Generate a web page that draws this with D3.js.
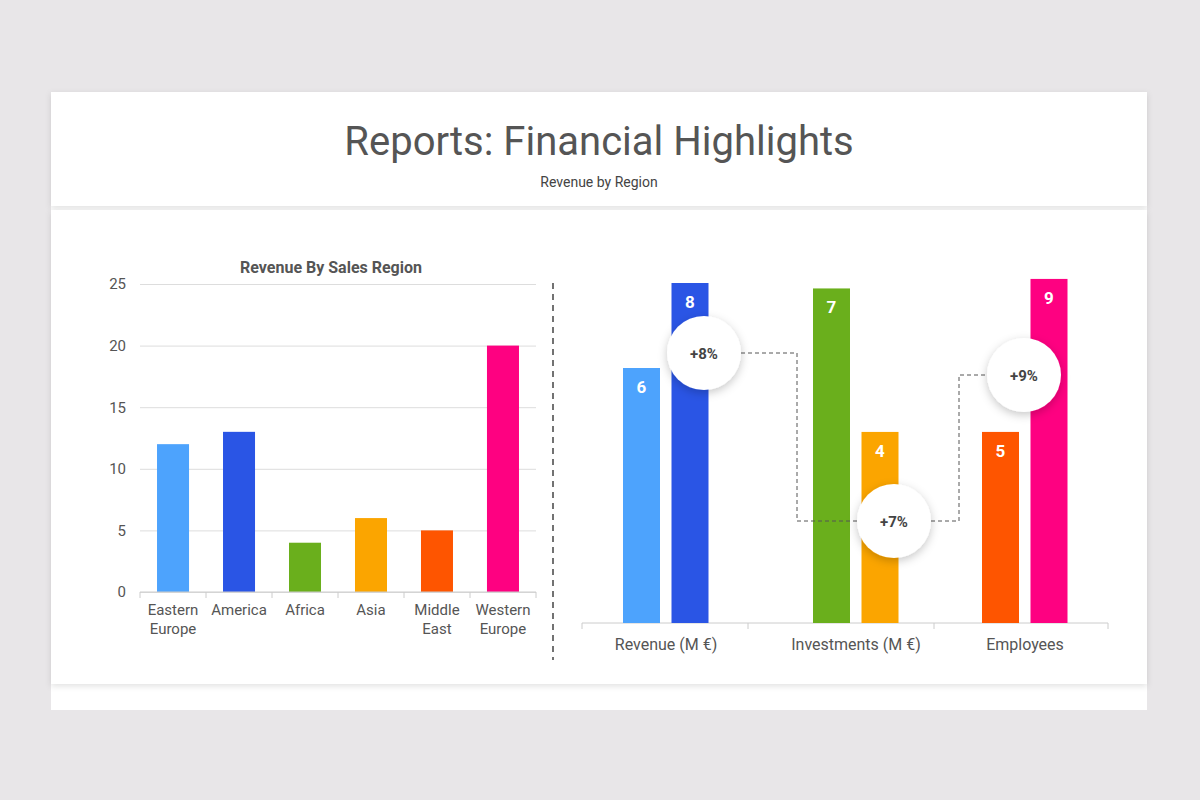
<!DOCTYPE html>
<html>
<head>
<meta charset="utf-8">
<script src="https://cdn.jsdelivr.net/npm/d3@7"></script>
<style>
  body { margin: 0; background: #e8e6e8; font-family: Roboto, "Open Sans", sans-serif; }
</style>
</head>
<body>
<svg id="chart" width="1200" height="800"></svg>
<script>
// left chart data
var regions = ["Eastern Europe", "America", "Africa", "Asia", "Middle East", "Western Europe"];
var regionRevenue = [12, 13, 4, 6, 5, 20];
var regionColors = ["#4da3fd", "#2a55e5", "#6aaf1c", "#fba500", "#fe5500", "#fe0181"];
var yTicks = [0, 5, 10, 15, 20, 25];

// right chart data
var groups = ["Revenue (M €)", "Investments (M €)", "Employees"];
var groupLabels = [[6, 8], [7, 4], [5, 9]];
var groupHeights = [[18.75, 25], [24.6, 14.05], [14.05, 25.3]];
var groupColors = [["#4da3fd", "#2a55e5"], ["#6aaf1c", "#fba500"], ["#fe5500", "#fe0181"]];
var growth = ["+8%", "+7%", "+9%"];

var svg = d3.select("#chart");

// card
var defs = svg.append("defs");
var f = defs.append("filter").attr("id", "sh").attr("x", "-30%").attr("y", "-30%").attr("width", "160%").attr("height", "160%");
f.append("feDropShadow").attr("dx", 0).attr("dy", 2).attr("stdDeviation", 3).attr("flood-color", "#000").attr("flood-opacity", 0.12);
var f2 = defs.append("filter").attr("id", "cs").attr("x", "-50%").attr("y", "-50%").attr("width", "200%").attr("height", "200%");
f2.append("feDropShadow").attr("dx", 0).attr("dy", 3).attr("stdDeviation", 5).attr("flood-color", "#000").attr("flood-opacity", 0.22);

svg.append("rect").attr("x", 51).attr("y", 92).attr("width", 1096).attr("height", 618).attr("fill", "#fff");
svg.append("rect").attr("x", 51).attr("y", 92).attr("width", 1096).attr("height", 114).attr("fill", "#fff").attr("filter", "url(#sh)");
svg.append("rect").attr("x", 51).attr("y", 210).attr("width", 1096).attr("height", 474).attr("fill", "#fff").attr("filter", "url(#sh)");

svg.append("text").attr("x", 599).attr("y", 155).attr("text-anchor", "middle")
  .attr("font-size", 40).attr("fill", "#555").text("Reports: Financial Highlights");
svg.append("text").attr("x", 599).attr("y", 187).attr("text-anchor", "middle")
  .attr("font-size", 14).attr("fill", "#444").text("Revenue by Region");

// left chart
var x = d3.scaleBand().domain(regions).range([140, 536]).paddingInner(0.515).paddingOuter(0.258);
var y = d3.scaleLinear().domain([0, 25]).range([592, 284]);

svg.append("text").attr("x", 331).attr("y", 273).attr("text-anchor", "middle")
  .attr("font-size", 16).attr("font-weight", "bold").attr("fill", "#555").text("Revenue By Sales Region");

var gy = svg.append("g").attr("transform", "translate(140,0)")
  .call(d3.axisLeft(y).tickValues(yTicks).tickSize(-396).tickPadding(14));
gy.select(".domain").remove();
gy.selectAll(".tick line").attr("stroke", "#ddd");
gy.selectAll(".tick text").attr("font-size", 15).attr("fill", "#555").attr("font-family", "Roboto");

var lb = svg.append("g");
lb.selectAll("rect").data(regions).join("rect")
  .attr("x", function(d) { return x(d); })
  .attr("width", x.bandwidth())
  .attr("y", function(d, i) { return y(regionRevenue[i]); })
  .attr("height", function(d, i) { return y(0) - y(regionRevenue[i]); })
  .attr("fill", function(d, i) { return regionColors[i]; });

svg.append("line").attr("x1", 140).attr("x2", 536).attr("y1", 592).attr("y2", 592).attr("stroke", "#ccc");
var step = x.step();
svg.selectAll(".ctick").data(d3.range(7)).join("line")
  .attr("x1", function(d) { return 140 + d * 66; }).attr("x2", function(d) { return 140 + d * 66; })
  .attr("y1", 592).attr("y2", 598).attr("stroke", "#ccc");
svg.selectAll(".clab").data(regions).join("text")
  .attr("text-anchor", "middle").attr("font-size", 15).attr("fill", "#555")
  .each(function(d) {
    var words = d.split(" ");
    var t = d3.select(this);
    words.forEach(function(w, k) {
      t.append("tspan").attr("x", x(d) + x.bandwidth() / 2).attr("y", 615 + k * 19).text(w);
    });
  });

// divider
svg.append("line").attr("x1", 553).attr("x2", 553).attr("y1", 283).attr("y2", 660)
  .attr("stroke", "#444").attr("stroke-width", 1.5).attr("stroke-dasharray", "6,5");

// right chart
var gx = d3.scaleBand().domain(groups).range([582, 1108]).padding(0);
var centers = [666, 856, 1025];
var hy = d3.scaleLinear().domain([0, 25]).range([623, 283]);
var bw = 37, gap = 11;

svg.append("line").attr("x1", 582).attr("x2", 1108).attr("y1", 623).attr("y2", 623).attr("stroke", "#ccc");
svg.selectAll(".gtick").data([582, 748, 934, 1108]).join("line")
  .attr("x1", function(d) { return d; }).attr("x2", function(d) { return d; })
  .attr("y1", 623).attr("y2", 629).attr("stroke", "#ccc");

groups.forEach(function(g, gi) {
  var c = centers[gi];
  [0, 1].forEach(function(j) {
    var bx = j === 0 ? c - gap / 2 - bw - 0.5 + 5 : c + gap / 2 + 5;
    var top = hy(groupHeights[gi][j]);
    svg.append("rect").attr("x", bx - 5).attr("width", bw).attr("y", top)
      .attr("height", 623 - top).attr("fill", groupColors[gi][j]);
    svg.append("text").attr("x", bx - 5 + bw / 2).attr("y", top + 25).attr("text-anchor", "middle")
      .attr("font-size", 17).attr("font-weight", "bold").attr("fill", "#fff").text(groupLabels[gi][j]);
  });
  svg.append("text").attr("x", c).attr("y", 650).attr("text-anchor", "middle")
    .attr("font-size", 16).attr("fill", "#555").text(g);
});

// connectors
var conn = "M741,353 H797 V521 H857 M931,521 H959 V375 H987";
svg.append("path").attr("d", conn).attr("fill", "none").attr("stroke", "#555")
  .attr("stroke-dasharray", "4,3");

var circles = [[704, 353], [894, 521], [1024, 375]];
circles.forEach(function(p, i) {
  svg.append("circle").attr("cx", p[0]).attr("cy", p[1]).attr("r", 37).attr("fill", "#fff").attr("filter", "url(#cs)");
  svg.append("text").attr("x", p[0]).attr("y", p[1] + 6).attr("text-anchor", "middle")
    .attr("font-size", 15).attr("font-weight", "bold").attr("fill", "#444").text(growth[i]);
});
</script>
</body>
</html>
